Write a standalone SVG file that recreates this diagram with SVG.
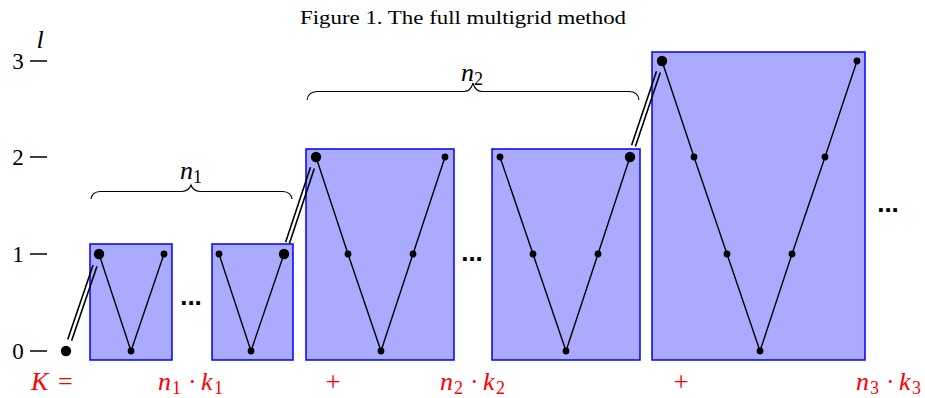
<svg xmlns="http://www.w3.org/2000/svg" width="925" height="398" viewBox="0 0 925 398">
<style>
.box{fill:#aaaaff;stroke:#0000ff;stroke-width:1.5}
.v{fill:none;stroke:#000;stroke-width:1.4}
.dl{stroke:#000;stroke-width:1.6}
.big{fill:#000}
.sm{fill:#000}
.tick{stroke:#000;stroke-width:1.5}
.t{font-family:"Liberation Serif",serif;font-size:23px;fill:#000}
.m{font-family:"Liberation Serif",serif;font-style:italic;font-size:26px}
.sub{font-family:"Liberation Serif",serif;font-size:18px;font-style:normal}
.up{font-style:normal}
.red{fill:#ff0000}
.plus{font-family:"Liberation Serif",serif;font-size:27px}
.brace{fill:none;stroke:#000;stroke-width:1.1}
.dots{font-family:"Liberation Sans",sans-serif;font-weight:bold;font-size:26px;fill:#000}
</style>
<rect width="925" height="398" fill="#fff"/>
<text x="300" y="24" textLength="326" lengthAdjust="spacingAndGlyphs" style="font-family:'Liberation Serif',serif;font-size:18px">Figure 1. The full multigrid method</text>
<g id="axis">
<line class="tick" x1="30" y1="351" x2="47" y2="351"/>
<line class="tick" x1="30" y1="254" x2="47" y2="254"/>
<line class="tick" x1="30" y1="157" x2="47" y2="157"/>
<line class="tick" x1="30" y1="61" x2="47" y2="61"/>
<text class="t" x="18" y="359" text-anchor="middle">0</text>
<text class="t" x="18" y="262" text-anchor="middle">1</text>
<text class="t" x="18" y="165" text-anchor="middle">2</text>
<text class="t" x="18" y="69" text-anchor="middle">3</text>
<text class="m" x="40" y="48" text-anchor="middle">l</text>
</g>
<g id="box1"><rect class="box" x="90" y="244" width="82" height="116"/></g>
<g id="box2"><rect class="box" x="212" y="244" width="81" height="116"/></g>
<g id="box3"><rect class="box" x="306" y="149" width="148" height="211"/></g>
<g id="box4"><rect class="box" x="492" y="149" width="148" height="211"/></g>
<g id="box5"><rect class="box" x="652" y="52" width="213" height="308"/></g>
<g id="connectors">
<polyline class="v" points="99,254 131,351 164,254"/>
<polyline class="v" points="219,254 251,351 284,254"/>
<polyline class="v" points="316,157 348,254 381,351 413,254 445,157"/>
<polyline class="v" points="500,157 533,254 566,351 598,254 630,157"/>
<polyline class="v" points="662,61 694,157 727,254 760,351 792,254 825,157 857,61"/>
<line class="dl" x1="67.7" y1="339.5" x2="93.1" y2="265.0"/>
<line class="dl" x1="71.6" y1="340.8" x2="97.0" y2="266.3"/>
<line class="dl" x1="285.6" y1="242.3" x2="310.5" y2="167.2"/>
<line class="dl" x1="289.4" y1="243.6" x2="314.3" y2="168.5"/>
<line class="dl" x1="631.6" y1="145.3" x2="656.5" y2="71.2"/>
<line class="dl" x1="635.4" y1="146.6" x2="660.3" y2="72.5"/>
</g>
<g id="nodes">
<circle class="big" cx="66" cy="351" r="5.2"/>
<circle class="big" cx="99" cy="254" r="5.2"/>
<circle class="sm" cx="131" cy="351" r="3.4"/>
<circle class="sm" cx="164" cy="254" r="3.4"/>
<circle class="sm" cx="219" cy="254" r="3.4"/>
<circle class="sm" cx="251" cy="351" r="3.4"/>
<circle class="big" cx="284" cy="254" r="5.2"/>
<circle class="big" cx="316" cy="157" r="5.2"/>
<circle class="sm" cx="348" cy="254" r="3.4"/>
<circle class="sm" cx="381" cy="351" r="3.4"/>
<circle class="sm" cx="413" cy="254" r="3.4"/>
<circle class="sm" cx="445" cy="157" r="3.4"/>
<circle class="sm" cx="500" cy="157" r="3.4"/>
<circle class="sm" cx="533" cy="254" r="3.4"/>
<circle class="sm" cx="566" cy="351" r="3.4"/>
<circle class="sm" cx="598" cy="254" r="3.4"/>
<circle class="big" cx="630" cy="157" r="5.2"/>
<circle class="big" cx="662" cy="61" r="5.2"/>
<circle class="sm" cx="694" cy="157" r="3.4"/>
<circle class="sm" cx="727" cy="254" r="3.4"/>
<circle class="sm" cx="760" cy="351" r="3.4"/>
<circle class="sm" cx="792" cy="254" r="3.4"/>
<circle class="sm" cx="825" cy="157" r="3.4"/>
<circle class="sm" cx="857" cy="61" r="3.4"/>
</g>
<g id="dots">
<text class="dots" x="191" y="305" text-anchor="middle">...</text>
<text class="dots" x="472" y="261" text-anchor="middle">...</text>
<text class="dots" x="888" y="212" text-anchor="middle">...</text>
</g>
<g id="brace1">
<path class="brace" d="M91,199 Q92,192 100,191.5 L182,191.5 Q189,191 191,185 Q193,191 200,191.5 L283,191.5 Q291,192 292,199"/>
<text class="m" x="180" y="179">n<tspan class="sub" x="193" dy="4">1</tspan></text>
</g>
<g id="brace2">
<path class="brace" d="M307,100 Q308,92 317,91.5 L464,91.5 Q471,91 473,83 Q475,91 482,91.5 L630,91.5 Q638,92 639,100"/>
<text class="m" x="461" y="81">n<tspan class="sub" x="474" dy="4">2</tspan></text>
</g>
<g id="formula" class="red">
<text class="m red" x="31" y="390">K<tspan class="up" x="58">=</tspan></text>
<text class="m red" x="158" y="390">n<tspan class="sub" x="172" dy="4">1</tspan><tspan class="up" x="188" dy="-4">·</tspan><tspan x="201">k</tspan><tspan class="sub" x="214" dy="4">1</tspan></text>
<text class="plus red" x="333" y="391" text-anchor="middle">+</text>
<text class="m red" x="440" y="390">n<tspan class="sub" x="454" dy="4">2</tspan><tspan class="up" x="470" dy="-4">·</tspan><tspan x="483">k</tspan><tspan class="sub" x="496" dy="4">2</tspan></text>
<text class="plus red" x="681" y="391" text-anchor="middle">+</text>
<text class="m red" x="856" y="390">n<tspan class="sub" x="870" dy="4">3</tspan><tspan class="up" x="886" dy="-4">·</tspan><tspan x="899">k</tspan><tspan class="sub" x="912" dy="4">3</tspan></text>
</g>
</svg>
